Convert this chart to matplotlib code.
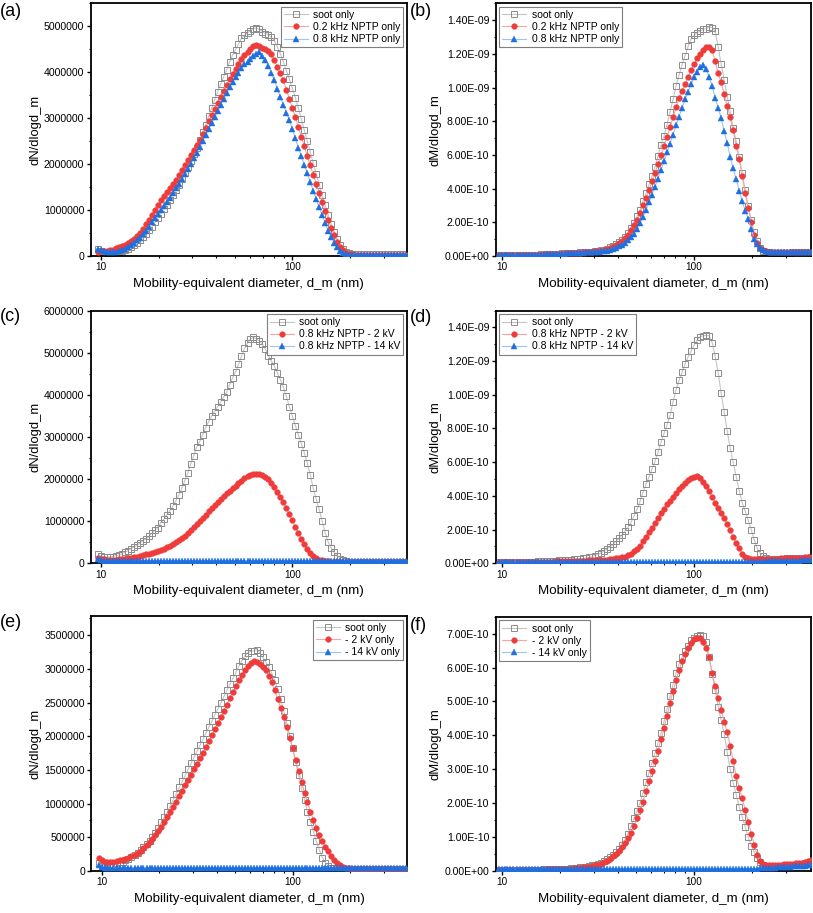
import numpy as np
import matplotlib.pyplot as plt
from matplotlib.ticker import LogLocator, FixedLocator, FuncFormatter, NullFormatter

plt.rcParams['font.family'] = ['Liberation Sans', 'DejaVu Sans']

# ---------------- data ----------------
# mobility diameter channels (nm)
d_m = [
    9.65, 10.0, 10.4, 10.7, 11.1, 11.5, 12.0, 12.4, 12.9, 13.3,
    13.8, 14.3, 14.9, 15.4, 16.0, 16.5, 17.2, 17.8, 18.4, 19.1,
    19.8, 20.5, 21.3, 22.1, 22.9, 23.7, 24.6, 25.5, 26.4, 27.4,
    28.4, 29.4, 30.5, 31.6, 32.8, 34.0, 35.2, 36.5, 37.9, 39.2,
    40.7, 42.2, 43.7, 45.3, 47.0, 48.7, 50.5, 52.3, 54.2, 56.2,
    58.3, 60.4, 62.6, 64.9, 67.3, 69.8, 72.3, 75.0, 77.7, 80.6,
    83.5, 86.6, 89.8, 93.1, 96.5, 100.0, 103.7, 107.5, 111.4, 115.5,
    119.7, 124.1, 128.6, 133.4, 138.2, 143.3, 148.6, 154.0, 159.6, 165.5,
    171.5, 177.8, 184.3, 191.1, 198.1, 205.4, 212.9, 220.7, 228.8, 237.2,
    245.8, 254.8, 264.2, 273.8, 283.9, 294.3, 305.1, 316.2, 327.8, 339.8,
    352.3, 365.2, 378.6, 392.4, 406.8,
]

# (a) dN/dlogd_m, x1e6
soot_a = [
    0.15, 0.10, 0.08, 0.07, 0.07, 0.07, 0.08, 0.09, 0.11, 0.13,
    0.16, 0.20, 0.24, 0.29, 0.35, 0.41, 0.48, 0.56, 0.64, 0.73,
    0.82, 0.92, 1.02, 1.12, 1.22, 1.33, 1.44, 1.55, 1.67, 1.80,
    1.93, 2.07, 2.21, 2.36, 2.52, 2.69, 2.86, 3.04, 3.22, 3.39,
    3.58, 3.74, 3.90, 4.04, 4.22, 4.37, 4.49, 4.61, 4.74, 4.80,
    4.86, 4.90, 4.95, 4.96, 4.93, 4.88, 4.84, 4.82, 4.76, 4.68,
    4.55, 4.40, 4.22, 4.03, 3.85, 3.65, 3.44, 3.22, 2.98, 2.74,
    2.50, 2.26, 2.02, 1.78, 1.55, 1.32, 1.10, 0.89, 0.70, 0.52,
    0.37, 0.25, 0.15, 0.09, 0.06, 0.05, 0.04, 0.04, 0.04, 0.04,
    0.04, 0.04, 0.04, 0.04, 0.04, 0.04, 0.04, 0.04, 0.04, 0.04,
    0.04, 0.04, 0.04, 0.04, 0.04,
]
red_a = [
    0.09, 0.10, 0.10, 0.11, 0.12, 0.14, 0.17, 0.19, 0.22, 0.25,
    0.29, 0.33, 0.38, 0.44, 0.51, 0.59, 0.69, 0.79, 0.90, 1.01,
    1.12, 1.21, 1.30, 1.39, 1.48, 1.57, 1.66, 1.76, 1.87, 1.98,
    2.09, 2.20, 2.31, 2.42, 2.53, 2.66, 2.79, 2.93, 3.06, 3.20,
    3.33, 3.47, 3.60, 3.73, 3.85, 3.96, 4.07, 4.17, 4.28, 4.38,
    4.45, 4.50, 4.56, 4.60, 4.56, 4.53, 4.51, 4.46, 4.39, 4.27,
    4.12, 3.98, 3.82, 3.62, 3.42, 3.22, 3.02, 2.81, 2.60, 2.39,
    2.18, 1.97, 1.77, 1.57, 1.38, 1.18, 0.98, 0.79, 0.61, 0.45,
    0.31, 0.20, 0.12, 0.07, 0.05, 0.04, 0.03, 0.03, 0.03, 0.03,
    0.03, 0.03, 0.03, 0.03, 0.03, 0.03, 0.03, 0.03, 0.03, 0.03,
    0.03, 0.03, 0.03, 0.03, 0.03,
]
blue_a = [
    0.16, 0.12, 0.10, 0.09, 0.08, 0.08, 0.09, 0.10, 0.12, 0.15,
    0.19, 0.23, 0.28, 0.34, 0.40, 0.47, 0.55, 0.64, 0.73, 0.82,
    0.91, 1.00, 1.09, 1.18, 1.27, 1.37, 1.47, 1.57, 1.68, 1.79,
    1.90, 2.01, 2.13, 2.25, 2.37, 2.50, 2.63, 2.76, 2.89, 3.02,
    3.15, 3.28, 3.41, 3.54, 3.67, 3.79, 3.89, 3.99, 4.10, 4.17,
    4.23, 4.29, 4.35, 4.40, 4.45, 4.36, 4.26, 4.14, 3.99, 3.82,
    3.64, 3.46, 3.29, 3.12, 2.96, 2.76, 2.56, 2.36, 2.17, 1.98,
    1.80, 1.61, 1.42, 1.24, 1.06, 0.89, 0.71, 0.55, 0.41, 0.29,
    0.19, 0.11, 0.07, 0.04, 0.03, 0.03, 0.02, 0.02, 0.02, 0.02,
    0.02, 0.02, 0.02, 0.02, 0.02, 0.02, 0.02, 0.02, 0.02, 0.02,
    0.02, 0.02, 0.02, 0.02, 0.02,
]

# (b) dM/dlogd_m, x1e-10
soot_b = [
    0.03, 0.03, 0.04, 0.04, 0.04, 0.05, 0.05, 0.05, 0.06, 0.06,
    0.07, 0.07, 0.08, 0.08, 0.09, 0.10, 0.10, 0.11, 0.12, 0.13,
    0.14, 0.15, 0.16, 0.17, 0.18, 0.19, 0.20, 0.21, 0.22, 0.23,
    0.24, 0.26, 0.28, 0.30, 0.33, 0.38, 0.44, 0.52, 0.62, 0.73,
    0.85, 0.97, 1.12, 1.35, 1.65, 1.98, 2.35, 2.72, 3.25, 3.72,
    4.25, 4.75, 5.30, 5.95, 6.60, 7.15, 7.80, 8.55, 9.30, 10.10,
    10.75, 11.35, 11.90, 12.45, 12.90, 13.10, 13.25, 13.35, 13.45, 13.50,
    13.60, 13.55, 13.35, 12.40, 11.40, 10.45, 9.45, 8.60, 7.60, 6.80,
    5.90, 4.90, 3.90, 2.95, 2.15, 1.40, 0.90, 0.50, 0.32, 0.25,
    0.22, 0.20, 0.20, 0.20, 0.20, 0.20, 0.20, 0.20, 0.21, 0.21,
    0.22, 0.22, 0.23, 0.23, 0.24,
]
red_b = [
    0.03, 0.03, 0.03, 0.04, 0.04, 0.04, 0.05, 0.05, 0.05, 0.06,
    0.06, 0.07, 0.07, 0.08, 0.08, 0.09, 0.10, 0.10, 0.11, 0.12,
    0.13, 0.14, 0.15, 0.16, 0.17, 0.18, 0.19, 0.20, 0.21, 0.22,
    0.23, 0.25, 0.27, 0.29, 0.31, 0.35, 0.41, 0.48, 0.55, 0.63,
    0.75, 0.88, 1.05, 1.25, 1.52, 1.85, 2.15, 2.55, 3.00, 3.45,
    3.90, 4.45, 4.90, 5.45, 5.98, 6.50, 7.05, 7.65, 8.25, 8.85,
    9.40, 9.80, 10.20, 10.65, 11.05, 11.40, 11.75, 12.00, 12.25, 12.40,
    12.40, 12.20, 11.55, 10.85, 10.30, 9.60, 8.90, 8.25, 7.45, 6.55,
    5.75, 4.75, 3.75, 2.85, 2.00, 1.25, 0.80, 0.48, 0.34, 0.28,
    0.26, 0.25, 0.24, 0.23, 0.23, 0.22, 0.22, 0.22, 0.23, 0.23,
    0.24, 0.24, 0.25, 0.25, 0.26,
]
blue_b = [
    0.03, 0.03, 0.03, 0.03, 0.04, 0.04, 0.04, 0.05, 0.05, 0.05,
    0.06, 0.06, 0.07, 0.07, 0.08, 0.08, 0.09, 0.09, 0.10, 0.11,
    0.12, 0.13, 0.14, 0.15, 0.16, 0.17, 0.18, 0.19, 0.20, 0.21,
    0.22, 0.23, 0.24, 0.26, 0.28, 0.30, 0.32, 0.36, 0.42, 0.49,
    0.57, 0.68, 0.80, 0.93, 1.10, 1.33, 1.60, 1.95, 2.33, 2.75,
    3.18, 3.65, 4.10, 4.58, 5.10, 5.62, 6.15, 6.67, 7.20, 7.75,
    8.25, 8.80, 9.30, 9.75, 10.20, 10.60, 10.95, 11.20, 11.35, 11.10,
    10.60, 10.10, 9.40, 8.80, 8.20, 7.40, 6.70, 5.90, 5.20, 4.55,
    3.85, 3.25, 2.70, 2.20, 1.60, 1.00, 0.70, 0.45, 0.34, 0.28,
    0.25, 0.23, 0.22, 0.22, 0.21, 0.21, 0.21, 0.21, 0.22, 0.22,
    0.22, 0.23, 0.23, 0.24, 0.24,
]

# (c) dN/dlogd_m, x1e6
soot_c = [
    0.22, 0.18, 0.15, 0.15, 0.15, 0.16, 0.18, 0.20, 0.23, 0.26,
    0.30, 0.35, 0.39, 0.43, 0.48, 0.53, 0.58, 0.64, 0.71, 0.78,
    0.85, 0.96, 1.05, 1.15, 1.25, 1.36, 1.48, 1.62, 1.78, 1.96,
    2.15, 2.35, 2.55, 2.76, 2.89, 3.05, 3.22, 3.36, 3.50, 3.60,
    3.72, 3.83, 3.95, 4.06, 4.24, 4.40, 4.55, 4.72, 4.92, 5.10,
    5.22, 5.32, 5.36, 5.33, 5.28, 5.20, 5.08, 4.93, 4.80, 4.68,
    4.52, 4.36, 4.18, 3.96, 3.72, 3.50, 3.27, 3.05, 2.84, 2.62,
    2.38, 2.10, 1.78, 1.52, 1.28, 1.00, 0.72, 0.50, 0.37, 0.26,
    0.18, 0.11, 0.07, 0.05, 0.04, 0.03, 0.03, 0.03, 0.03, 0.03,
    0.03, 0.03, 0.03, 0.03, 0.03, 0.03, 0.03, 0.03, 0.03, 0.03,
    0.03, 0.03, 0.03, 0.03, 0.03,
]
red_c = [
    0.13, 0.11, 0.10, 0.09, 0.09, 0.09, 0.09, 0.10, 0.10, 0.11,
    0.12, 0.13, 0.14, 0.16, 0.17, 0.19, 0.21, 0.23, 0.25, 0.27,
    0.29, 0.32, 0.35, 0.38, 0.42, 0.46, 0.50, 0.55, 0.60, 0.66,
    0.72, 0.79, 0.86, 0.93, 1.00, 1.07, 1.15, 1.23, 1.31, 1.38,
    1.45, 1.52, 1.59, 1.66, 1.72, 1.78, 1.84, 1.90, 1.96, 2.02,
    2.07, 2.10, 2.12, 2.12, 2.11, 2.09, 2.05, 1.99, 1.91, 1.81,
    1.70, 1.58, 1.45, 1.31, 1.17, 1.02, 0.87, 0.72, 0.58, 0.45,
    0.34, 0.25, 0.18, 0.13, 0.09, 0.07, 0.05, 0.05, 0.04, 0.04,
    0.04, 0.04, 0.04, 0.04, 0.04, 0.04, 0.04, 0.04, 0.04, 0.04,
    0.04, 0.04, 0.04, 0.04, 0.04, 0.04, 0.04, 0.04, 0.04, 0.04,
    0.04, 0.04, 0.04, 0.04, 0.04,
]
blue_c = [
    0.10, 0.07, 0.06, 0.05, 0.05, 0.05, 0.05, 0.05, 0.05, 0.05,
    0.05, 0.05, 0.05, 0.05, 0.05, 0.05, 0.05, 0.05, 0.05, 0.05,
    0.05, 0.05, 0.05, 0.05, 0.05, 0.05, 0.05, 0.05, 0.05, 0.05,
    0.05, 0.05, 0.05, 0.05, 0.05, 0.05, 0.05, 0.05, 0.05, 0.05,
    0.05, 0.05, 0.05, 0.05, 0.05, 0.05, 0.05, 0.05, 0.05, 0.05,
    0.05, 0.05, 0.05, 0.05, 0.05, 0.05, 0.05, 0.05, 0.05, 0.05,
    0.05, 0.05, 0.05, 0.05, 0.05, 0.05, 0.05, 0.05, 0.05, 0.05,
    0.05, 0.05, 0.05, 0.05, 0.05, 0.05, 0.05, 0.05, 0.05, 0.05,
    0.05, 0.05, 0.05, 0.05, 0.05, 0.05, 0.05, 0.05, 0.05, 0.05,
    0.05, 0.05, 0.05, 0.05, 0.05, 0.05, 0.05, 0.05, 0.05, 0.05,
    0.05, 0.05, 0.05, 0.05, 0.05,
]

# (d) dM/dlogd_m, x1e-10
soot_d = [
    0.05, 0.05, 0.06, 0.06, 0.06, 0.07, 0.07, 0.08, 0.08, 0.09,
    0.09, 0.10, 0.10, 0.11, 0.12, 0.12, 0.13, 0.14, 0.15, 0.16,
    0.17, 0.18, 0.19, 0.20, 0.21, 0.23, 0.24, 0.26, 0.29, 0.32,
    0.36, 0.40, 0.46, 0.53, 0.62, 0.72, 0.85, 0.98, 1.12, 1.30,
    1.48, 1.68, 1.90, 2.15, 2.45, 2.80, 3.20, 3.68, 4.20, 4.68,
    5.12, 5.60, 6.05, 6.60, 7.20, 7.72, 8.20, 8.78, 9.60, 10.30,
    10.85, 11.35, 11.85, 12.25, 12.60, 12.95, 13.25, 13.45, 13.50, 13.52,
    13.50, 13.10, 12.30, 11.30, 10.10, 9.00, 7.85, 6.85, 6.00, 5.15,
    4.30, 3.60, 3.10, 2.55, 2.00, 1.38, 0.90, 0.60, 0.42, 0.33,
    0.28, 0.27, 0.27, 0.27, 0.28, 0.28, 0.29, 0.29, 0.30, 0.30,
    0.31, 0.32, 0.33, 0.34, 0.35,
]
red_d = [
    0.06, 0.06, 0.06, 0.06, 0.07, 0.07, 0.07, 0.07, 0.07, 0.08,
    0.08, 0.08, 0.08, 0.09, 0.09, 0.09, 0.10, 0.10, 0.10, 0.11,
    0.11, 0.11, 0.12, 0.12, 0.13, 0.13, 0.14, 0.15, 0.15, 0.16,
    0.17, 0.17, 0.18, 0.19, 0.20, 0.21, 0.22, 0.24, 0.26, 0.29,
    0.32, 0.35, 0.40, 0.47, 0.57, 0.72, 0.87, 1.05, 1.30, 1.56,
    1.85, 2.10, 2.40, 2.68, 2.98, 3.25, 3.50, 3.71, 3.96, 4.17,
    4.40, 4.60, 4.78, 4.95, 5.08, 5.15, 5.17, 5.05, 4.85, 4.58,
    4.30, 3.95, 3.60, 3.30, 3.00, 2.70, 2.35, 1.95, 1.58, 1.22,
    0.88, 0.58, 0.40, 0.32, 0.28, 0.27, 0.26, 0.26, 0.26, 0.26,
    0.27, 0.27, 0.28, 0.28, 0.29, 0.29, 0.30, 0.30, 0.31, 0.32,
    0.33, 0.34, 0.35, 0.36, 0.37,
]
blue_d = [
    0.08, 0.08, 0.08, 0.08, 0.08, 0.08, 0.08, 0.08, 0.08, 0.08,
    0.08, 0.08, 0.08, 0.08, 0.08, 0.08, 0.08, 0.08, 0.08, 0.08,
    0.08, 0.08, 0.08, 0.08, 0.08, 0.08, 0.08, 0.08, 0.08, 0.08,
    0.08, 0.08, 0.08, 0.08, 0.08, 0.08, 0.08, 0.08, 0.08, 0.08,
    0.08, 0.08, 0.08, 0.08, 0.08, 0.08, 0.08, 0.08, 0.08, 0.08,
    0.08, 0.08, 0.08, 0.08, 0.08, 0.08, 0.08, 0.08, 0.08, 0.08,
    0.08, 0.08, 0.08, 0.08, 0.08, 0.08, 0.08, 0.08, 0.08, 0.08,
    0.08, 0.08, 0.08, 0.08, 0.08, 0.08, 0.08, 0.08, 0.08, 0.08,
    0.08, 0.08, 0.08, 0.08, 0.08, 0.09, 0.09, 0.10, 0.10, 0.11,
    0.11, 0.12, 0.12, 0.13, 0.13, 0.14, 0.14, 0.15, 0.15, 0.16,
    0.16, 0.17, 0.18, 0.19, 0.20,
]

# (e) dN/dlogd_m, x1e6
soot_e = [
    0.12, 0.08, 0.08, 0.09, 0.10, 0.11, 0.12, 0.13, 0.14, 0.16,
    0.18, 0.21, 0.24, 0.27, 0.31, 0.35, 0.40, 0.45, 0.51, 0.57,
    0.64, 0.72, 0.80, 0.88, 0.97, 1.06, 1.15, 1.24, 1.33, 1.42,
    1.51, 1.60, 1.69, 1.78, 1.87, 1.96, 2.05, 2.14, 2.23, 2.32,
    2.41, 2.50, 2.59, 2.68, 2.77, 2.86, 2.95, 3.04, 3.12, 3.19,
    3.24, 3.26, 3.27, 3.28, 3.24, 3.17, 3.10, 3.02, 2.94, 2.83,
    2.70, 2.55, 2.38, 2.20, 2.01, 1.82, 1.62, 1.42, 1.23, 1.05,
    0.88, 0.73, 0.58, 0.44, 0.31, 0.20, 0.12, 0.07, 0.05, 0.04,
    0.03, 0.03, 0.03, 0.03, 0.03, 0.03, 0.03, 0.03, 0.03, 0.03,
    0.03, 0.03, 0.03, 0.03, 0.03, 0.03, 0.03, 0.03, 0.03, 0.03,
    0.03, 0.03, 0.03, 0.03, 0.03,
]
red_e = [
    0.19, 0.16, 0.14, 0.13, 0.13, 0.14, 0.15, 0.16, 0.17, 0.18,
    0.20, 0.22, 0.24, 0.27, 0.30, 0.34, 0.38, 0.43, 0.48, 0.54,
    0.60, 0.66, 0.73, 0.80, 0.87, 0.95, 1.03, 1.11, 1.19, 1.27,
    1.35, 1.43, 1.51, 1.59, 1.67, 1.75, 1.84, 1.93, 2.02, 2.11,
    2.20, 2.29, 2.38, 2.47, 2.56, 2.65, 2.74, 2.83, 2.91, 2.98,
    3.04, 3.08, 3.11, 3.10, 3.07, 3.03, 2.98, 2.90, 2.80, 2.68,
    2.55, 2.42, 2.28, 2.13, 1.98, 1.82, 1.65, 1.48, 1.32, 1.16,
    1.02, 0.88, 0.76, 0.64, 0.53, 0.44, 0.36, 0.29, 0.22, 0.16,
    0.12, 0.09, 0.06, 0.05, 0.04, 0.03, 0.03, 0.03, 0.03, 0.03,
    0.03, 0.03, 0.03, 0.03, 0.03, 0.03, 0.03, 0.03, 0.03, 0.03,
    0.03, 0.03, 0.03, 0.03, 0.03,
]
blue_e = [
    0.09, 0.06, 0.05, 0.04, 0.04, 0.04, 0.04, 0.04, 0.04, 0.04,
    0.04, 0.04, 0.04, 0.04, 0.04, 0.04, 0.04, 0.04, 0.04, 0.04,
    0.04, 0.04, 0.04, 0.04, 0.04, 0.04, 0.04, 0.04, 0.04, 0.04,
    0.04, 0.04, 0.04, 0.04, 0.04, 0.04, 0.04, 0.04, 0.04, 0.04,
    0.04, 0.04, 0.04, 0.04, 0.04, 0.04, 0.04, 0.04, 0.04, 0.04,
    0.04, 0.04, 0.04, 0.04, 0.04, 0.04, 0.04, 0.04, 0.04, 0.04,
    0.04, 0.04, 0.04, 0.04, 0.04, 0.04, 0.04, 0.04, 0.04, 0.04,
    0.04, 0.04, 0.04, 0.04, 0.04, 0.04, 0.04, 0.04, 0.04, 0.04,
    0.04, 0.04, 0.04, 0.04, 0.04, 0.04, 0.04, 0.04, 0.04, 0.04,
    0.04, 0.04, 0.04, 0.04, 0.04, 0.04, 0.04, 0.04, 0.04, 0.04,
    0.04, 0.04, 0.04, 0.04, 0.04,
]

# (f) dM/dlogd_m, x1e-10
soot_f = [
    0.02, 0.02, 0.02, 0.02, 0.02, 0.03, 0.03, 0.03, 0.03, 0.03,
    0.04, 0.04, 0.04, 0.04, 0.04, 0.05, 0.05, 0.05, 0.05, 0.06,
    0.06, 0.06, 0.07, 0.07, 0.08, 0.09, 0.10, 0.11, 0.12, 0.13,
    0.15, 0.17, 0.19, 0.22, 0.25, 0.29, 0.34, 0.40, 0.47, 0.56,
    0.66, 0.78, 0.92, 1.10, 1.32, 1.55, 1.78, 2.00, 2.30, 2.62,
    2.90, 3.20, 3.48, 3.78, 4.07, 4.42, 4.78, 5.15, 5.50, 5.85,
    6.10, 6.30, 6.48, 6.65, 6.80, 6.88, 6.93, 6.95, 6.92, 6.75,
    6.30, 5.80, 5.35, 4.85, 4.45, 4.05, 3.50, 3.00, 2.60, 2.25,
    1.90, 1.60, 1.30, 1.00, 0.75, 0.55, 0.38, 0.26, 0.18, 0.14,
    0.13, 0.13, 0.13, 0.14, 0.14, 0.15, 0.16, 0.17, 0.18, 0.19,
    0.20, 0.21, 0.23, 0.25, 0.27,
]
red_f = [
    0.02, 0.02, 0.02, 0.02, 0.02, 0.02, 0.03, 0.03, 0.03, 0.03,
    0.03, 0.04, 0.04, 0.04, 0.04, 0.04, 0.05, 0.05, 0.05, 0.05,
    0.06, 0.06, 0.06, 0.07, 0.07, 0.08, 0.09, 0.10, 0.11, 0.12,
    0.13, 0.15, 0.17, 0.19, 0.22, 0.26, 0.30, 0.36, 0.43, 0.51,
    0.60, 0.70, 0.82, 0.96, 1.12, 1.32, 1.55, 1.80, 2.05, 2.35,
    2.65, 2.95, 3.25, 3.55, 3.88, 4.22, 4.58, 4.95, 5.30, 5.62,
    5.92, 6.18, 6.40, 6.58, 6.72, 6.85, 6.88, 6.86, 6.75, 6.58,
    6.30, 5.85, 5.45, 5.10, 4.75, 4.40, 4.10, 3.70, 3.25, 2.80,
    2.45, 2.15, 1.80, 1.45, 1.10, 0.78, 0.48, 0.30, 0.22, 0.19,
    0.18, 0.18, 0.18, 0.19, 0.19, 0.20, 0.20, 0.21, 0.22, 0.23,
    0.24, 0.25, 0.27, 0.29, 0.31,
]
blue_f = [
    0.05, 0.05, 0.05, 0.05, 0.05, 0.05, 0.05, 0.05, 0.05, 0.05,
    0.05, 0.05, 0.05, 0.05, 0.05, 0.05, 0.05, 0.05, 0.05, 0.05,
    0.05, 0.05, 0.05, 0.05, 0.05, 0.05, 0.05, 0.05, 0.05, 0.05,
    0.05, 0.05, 0.05, 0.05, 0.05, 0.05, 0.05, 0.05, 0.05, 0.05,
    0.05, 0.05, 0.05, 0.05, 0.05, 0.05, 0.05, 0.05, 0.05, 0.05,
    0.05, 0.05, 0.05, 0.05, 0.05, 0.05, 0.05, 0.05, 0.05, 0.05,
    0.05, 0.05, 0.05, 0.05, 0.05, 0.05, 0.05, 0.05, 0.05, 0.05,
    0.05, 0.05, 0.05, 0.05, 0.05, 0.05, 0.05, 0.05, 0.05, 0.05,
    0.05, 0.05, 0.06, 0.06, 0.06, 0.07, 0.07, 0.08, 0.08, 0.09,
    0.09, 0.10, 0.10, 0.11, 0.11, 0.12, 0.12, 0.13, 0.14, 0.14,
    0.15, 0.16, 0.16, 0.17, 0.18,
]

labels_ab = ['soot only', '0.2 kHz NPTP only', '0.8 kHz NPTP only']
labels_cd = ['soot only', '0.8 kHz NPTP - 2 kV', '0.8 kHz NPTP - 14 kV']
labels_ef = ['soot only', '- 2 kV only', '- 14 kV only']

# ---------------- style ----------------
SOOT_EDGE = '#8c8c8c'
SOOT_LINE = '#c4c4c4'
RED = '#f03b3b'
RED_LINE = '#f6a5a5'
BLUE = '#1e6fdf'
BLUE_LINE = '#9fc4ee'

XLAB = 'Mobility-equivalent diameter, d_m (nm)'

fmt_int = FuncFormatter(lambda v, p: f'{v:.0f}')
fmt_sci = FuncFormatter(lambda v, p: f'{v:.2E}')

# tag, rect, data, scale, ylabel, ymax, major, fmt, legend loc, labels, xlim, tag pos
panels = [
    ('(a)', [0.1116, 0.7196, 0.3891, 0.2768], (soot_a, red_a, blue_a), 1e6, 'dN/dlogd_m',
     5.5e6, 1e6, fmt_int, 'upper right', labels_ab, (8.83, 398), (0, 12)),
    ('(b)', [0.6097, 0.7196, 0.3878, 0.2768], (soot_b, red_b, blue_b), 1e-10, 'dM/dlogd_m',
     1.5e-9, 2e-10, fmt_sci, 'upper left', labels_ab, (9.3, 405), (410, 12)),
    ('(c)', [0.1116, 0.3830, 0.3891, 0.2769], (soot_c, red_c, blue_c), 1e6, 'dN/dlogd_m',
     6.0e6, 1e6, fmt_int, 'upper right', labels_cd, (8.83, 398), (0, 316)),
    ('(d)', [0.6097, 0.3830, 0.3878, 0.2769], (soot_d, red_d, blue_d), 1e-10, 'dM/dlogd_m',
     1.5e-9, 2e-10, fmt_sci, 'upper left', labels_cd, (9.3, 405), (410, 318)),
    ('(e)', [0.1125, 0.0460, 0.3882, 0.2790], (soot_e, red_e, blue_e), 1e6, 'dN/dlogd_m',
     3.78e6, 5e5, fmt_int, 'upper right', labels_ef, (8.83, 398), (0, 622)),
    ('(f)', [0.6097, 0.0460, 0.3878, 0.2785], (soot_f, red_f, blue_f), 1e-10, 'dM/dlogd_m',
     7.5e-10, 1e-10, fmt_sci, 'upper left', labels_ef, (9.3, 405), (410, 625)),
]

W, H = 813, 913
fig = plt.figure(figsize=(W / 100, H / 100), dpi=100)

for tag, rect, series, scale, ylabel, ymax, major, fmt, loc, labels, xlim, tpos in panels:
    soot, red, blue = series
    for s in series:
        if len(s) != len(d_m):
            raise ValueError(f'{tag}: {len(s)} values')
    ax = fig.add_axes(rect)
    ax.plot(d_m, np.array(soot) * scale, color=SOOT_LINE, lw=0.8, marker='s', ms=3.7,
            mfc='none', mec=SOOT_EDGE, mew=0.7, label=labels[0], zorder=2)
    ax.plot(d_m, np.array(red) * scale, color=RED_LINE, lw=0.8, marker='o', ms=4.1,
            mfc=RED, mec=RED, mew=0.3, label=labels[1], zorder=3)
    ax.plot(d_m, np.array(blue) * scale, color=BLUE_LINE, lw=0.8, marker='^', ms=4.3,
            mfc=BLUE, mec=BLUE, mew=0.3, label=labels[2], zorder=4)

    ax.set_xscale('log')
    ax.set_xlim(*xlim)
    ax.set_ylim(0, ymax)
    ax.xaxis.set_major_locator(FixedLocator([10, 100]))
    ax.xaxis.set_minor_locator(FixedLocator([20, 30, 40, 50, 60, 70, 80, 90, 200, 300]))
    ax.xaxis.set_major_formatter(FuncFormatter(lambda v, p: f'{v:g}'))
    ax.xaxis.set_minor_formatter(NullFormatter())
    # only ticks inside the y range
    n_major = int(ymax / major + 1e-6)
    ax.yaxis.set_major_locator(FixedLocator([k * major for k in range(n_major + 1)]))
    n_minor = int(2 * ymax / major + 1e-6)
    ax.yaxis.set_minor_locator(FixedLocator([k * major / 2 for k in range(n_minor + 1)]))
    ax.yaxis.set_major_formatter(fmt)

    for sp in ax.spines.values():
        sp.set_linewidth(1.3)
    ax.tick_params(which='major', direction='out', length=2.6, width=1.0, pad=2)
    ax.tick_params(axis='x', which='major', labelsize=7.2)
    ax.tick_params(axis='y', which='major', labelsize=7.6)
    ax.tick_params(which='minor', direction='out', length=1.6, width=0.8)

    ax.set_xlabel(XLAB, fontsize=9.6, labelpad=4)
    ax.set_ylabel(ylabel, fontsize=9.4, labelpad=2)

    leg = ax.legend(loc=loc, fontsize=7.5, frameon=True, fancybox=False, framealpha=1,
                    edgecolor='#7f7f7f', handlelength=2.3, handletextpad=0.5,
                    borderpad=0.3, labelspacing=0.2, borderaxespad=0.35)
    leg.get_frame().set_linewidth(0.8)

    fig.text(tpos[0] / W, 1 - tpos[1] / H, tag, fontsize=13, ha='left', va='center')

fig.savefig('out.png', dpi=100)
